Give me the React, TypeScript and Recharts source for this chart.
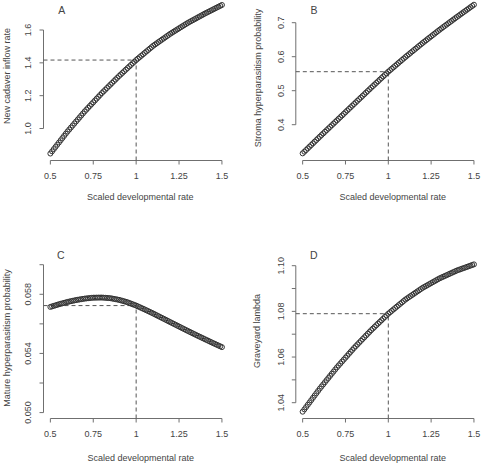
import React from 'react';
import { ScatterChart, Scatter, XAxis, YAxis, ReferenceLine } from 'recharts';

// ---------- data ----------
const RATE = [
  0.5, 0.51, 0.52, 0.53, 0.54, 0.55, 0.56, 0.57, 0.58, 0.59,
  0.6, 0.61, 0.62, 0.63, 0.64, 0.65, 0.66, 0.67, 0.68, 0.69,
  0.7, 0.71, 0.72, 0.73, 0.74, 0.75, 0.76, 0.77, 0.78, 0.79,
  0.8, 0.81, 0.82, 0.83, 0.84, 0.85, 0.86, 0.87, 0.88, 0.89,
  0.9, 0.91, 0.92, 0.93, 0.94, 0.95, 0.96, 0.97, 0.98, 0.99,
  1.0, 1.01, 1.02, 1.03, 1.04, 1.05, 1.06, 1.07, 1.08, 1.09,
  1.1, 1.11, 1.12, 1.13, 1.14, 1.15, 1.16, 1.17, 1.18, 1.19,
  1.2, 1.21, 1.22, 1.23, 1.24, 1.25, 1.26, 1.27, 1.28, 1.29,
  1.3, 1.31, 1.32, 1.33, 1.34, 1.35, 1.36, 1.37, 1.38, 1.39,
  1.4, 1.41, 1.42, 1.43, 1.44, 1.45, 1.46, 1.47, 1.48, 1.49,
  1.5,
];

const NEW_CADAVER_INFLOW = [
  0.8475, 0.8609, 0.8743, 0.8878, 0.9012, 0.9146, 0.928, 0.9414, 0.9549, 0.9683,
  0.9817, 0.9939, 1.0061, 1.0183, 1.0305, 1.0428, 1.055, 1.0672, 1.0794, 1.0916,
  1.1038, 1.115, 1.1262, 1.1373, 1.1485, 1.1597, 1.1709, 1.1821, 1.1932, 1.2044,
  1.2156, 1.226, 1.2363, 1.2467, 1.2571, 1.2675, 1.2778, 1.2882, 1.2986, 1.3089,
  1.3193, 1.3291, 1.3388, 1.3486, 1.3584, 1.3682, 1.3779, 1.3877, 1.3975, 1.4072,
  1.417, 1.4257, 1.4345, 1.4432, 1.452, 1.4607, 1.4694, 1.4782, 1.4869, 1.4957,
  1.5044, 1.5117, 1.519, 1.5264, 1.5337, 1.541, 1.5483, 1.5556, 1.563, 1.5703,
  1.5776, 1.5841, 1.5906, 1.5971, 1.6036, 1.6102, 1.6167, 1.6232, 1.6297, 1.6362,
  1.6427, 1.6484, 1.6541, 1.6598, 1.6655, 1.6712, 1.6769, 1.6826, 1.6883, 1.694,
  1.6997, 1.705, 1.7103, 1.7155, 1.7208, 1.7261, 1.7314, 1.7367, 1.7419, 1.7472,
  1.7525,
];

const STROMA_HYPERPARASITISM = [
  0.3157, 0.3206, 0.3255, 0.3304, 0.3353, 0.3402, 0.3451, 0.35, 0.3549, 0.3598,
  0.3647, 0.3695, 0.3743, 0.3791, 0.3839, 0.3887, 0.3935, 0.3983, 0.4031, 0.4079,
  0.4127, 0.4175, 0.4223, 0.4271, 0.4319, 0.4368, 0.4416, 0.4464, 0.4512, 0.456,
  0.4608, 0.4656, 0.4704, 0.4752, 0.48, 0.4848, 0.4896, 0.4944, 0.4992, 0.504,
  0.5088, 0.5135, 0.5182, 0.5229, 0.5276, 0.5324, 0.5371, 0.5418, 0.5465, 0.5512,
  0.5559, 0.5602, 0.5645, 0.5688, 0.5731, 0.5775, 0.5818, 0.5861, 0.5904, 0.5947,
  0.599, 0.6031, 0.6072, 0.6114, 0.6155, 0.6196, 0.6237, 0.6278, 0.632, 0.6361,
  0.6402, 0.6441, 0.648, 0.652, 0.6559, 0.6598, 0.6637, 0.6676, 0.6716, 0.6755,
  0.6794, 0.6831, 0.6869, 0.6906, 0.6943, 0.6981, 0.7018, 0.7055, 0.7092, 0.713,
  0.7167, 0.7203, 0.7239, 0.7276, 0.7312, 0.7348, 0.7384, 0.742, 0.7457, 0.7493,
  0.7529,
];

const MATURE_HYPERPARASITISM = [
  0.057146, 0.057182, 0.057218, 0.057253, 0.057289, 0.057325, 0.057357, 0.057388, 0.05742, 0.057451,
  0.057483, 0.057508, 0.057534, 0.057559, 0.057585, 0.05761, 0.05763, 0.057649, 0.057669, 0.057688,
  0.057708, 0.05772, 0.057733, 0.057745, 0.057758, 0.05777, 0.057772, 0.057774, 0.057776, 0.057778,
  0.05778, 0.057771, 0.057762, 0.057753, 0.057744, 0.057735, 0.057713, 0.057691, 0.057669, 0.057647,
  0.057625, 0.057592, 0.057559, 0.057526, 0.057493, 0.05746, 0.057415, 0.05737, 0.057326, 0.057281,
  0.057236, 0.057184, 0.057132, 0.057079, 0.057027, 0.056975, 0.056919, 0.056864, 0.056808, 0.056753,
  0.056697, 0.056639, 0.05658, 0.056522, 0.056463, 0.056405, 0.056346, 0.056288, 0.056229, 0.056171,
  0.056112, 0.056054, 0.055995, 0.055937, 0.055878, 0.05582, 0.055762, 0.055703, 0.055645, 0.055586,
  0.055528, 0.055471, 0.055415, 0.055358, 0.055302, 0.055245, 0.055189, 0.055133, 0.055078, 0.055022,
  0.054966, 0.054912, 0.054857, 0.054803, 0.054748, 0.054694, 0.054641, 0.054587, 0.054534, 0.05448,
  0.054427,
];

const GRAVEYARD_LAMBDA = [
  1.03606, 1.03707, 1.03808, 1.03909, 1.0401, 1.04111, 1.04212, 1.04313, 1.04414, 1.04515,
  1.04616, 1.04709, 1.04802, 1.04895, 1.04988, 1.05081, 1.05174, 1.05267, 1.0536, 1.05453,
  1.05546, 1.05631, 1.05716, 1.05801, 1.05886, 1.05971, 1.06056, 1.06141, 1.06226, 1.06311,
  1.06396, 1.06474, 1.06552, 1.0663, 1.06708, 1.06786, 1.06864, 1.06942, 1.0702, 1.07098,
  1.07176, 1.07248, 1.0732, 1.07393, 1.07465, 1.07537, 1.07609, 1.07681, 1.07754, 1.07826,
  1.07898, 1.0796, 1.08022, 1.08084, 1.08146, 1.08208, 1.0827, 1.08332, 1.08394, 1.08456,
  1.08518, 1.08569, 1.0862, 1.08671, 1.08722, 1.08773, 1.08824, 1.08875, 1.08926, 1.08977,
  1.09028, 1.0907, 1.09112, 1.09154, 1.09196, 1.09238, 1.0928, 1.09322, 1.09364, 1.09406,
  1.09448, 1.09482, 1.09516, 1.0955, 1.09584, 1.09618, 1.09652, 1.09686, 1.0972, 1.09754,
  1.09788, 1.09815, 1.09842, 1.09869, 1.09896, 1.09923, 1.0995, 1.09977, 1.10004, 1.10031,
  1.10058,
];

const X_TICKS = [0.5, 0.75, 1, 1.25, 1.5];
const X_TICK_LABELS = ['0.5', '0.75', '1', '1.25', '1.5'];

const Y_TICKS_A = [1.0, 1.2, 1.4, 1.6];
const Y_LABELS_A = ['1.0', '1.2', '1.4', '1.6'];
const Y_TICKS_B = [0.4, 0.5, 0.6, 0.7];
const Y_LABELS_B = ['0.4', '0.5', '0.6', '0.7'];
const Y_TICKS_C = [0.05, 0.052, 0.054, 0.056, 0.058, 0.06];
const Y_LABELS_C = ['0.050', '', '0.054', '', '0.058', ''];
const Y_TICKS_D = [1.04, 1.05, 1.06, 1.07, 1.08, 1.09, 1.1];
const Y_LABELS_D = ['1.04', '', '1.06', '', '1.08', '', '1.10'];

const PANEL_LETTERS = ['A', 'B', 'C', 'D'];
const Y_TITLES = [
  'New cadaver inflow rate',
  'Stroma hyperparasitism probability',
  'Mature hyperparasitism probability',
  'Graveyard lambda',
];
const X_TITLE = 'Scaled developmental rate';
const REFERENCE_RATE = 1;

// ---------- styling / layout ----------
const FONT = "'Liberation Sans', Arial, Helvetica, sans-serif";
const TEXT = '#444';
const AXIS = '#6f6f6f';
const POINT = '#333';
const DASH = '#555';
const X_DOMAIN: [number, number] = [0.46, 1.54];

const PANELS = [
  {
    values: NEW_CADAVER_INFLOW, yTicks: Y_TICKS_A, yLabels: Y_LABELS_A,
    left: 0, top: -10, width: 242, height: 242, mTop: 8.7, mRight: 13.2, yAxisW: 43.5, xAxisH: 71.5,
    yDomain: [0.8051, 1.7907] as [number, number],
    letter: [61.7, 10], yTitle: [7.2, 76], xTitle: [140.3, 197],
  },
  {
    values: STROMA_HYPERPARASITISM, yTicks: Y_TICKS_B, yLabels: Y_LABELS_B,
    left: 242, top: -10, width: 242, height: 242, mTop: 8.7, mRight: 3.2, yAxisW: 53.8, xAxisH: 71.5,
    yDomain: [0.29471, 0.77059] as [number, number],
    letter: [314, 10], yTitle: [257.5, 78], xTitle: [392.7, 197],
  },
  {
    values: MATURE_HYPERPARASITISM, yTicks: Y_TICKS_C, yLabels: Y_LABELS_C,
    left: 0, top: 232, width: 242, height: 233, mTop: 26.8, mRight: 13.2, yAxisW: 43.5, xAxisH: 46.5,
    yDomain: [0.0496, 0.0604] as [number, number],
    letter: [60.7, 254.7], yTitle: [6.8, 338], xTitle: [140.7, 457.5],
  },
  {
    values: GRAVEYARD_LAMBDA, yTicks: Y_TICKS_D, yLabels: Y_LABELS_D,
    left: 242, top: 232, width: 242, height: 233, mTop: 26.8, mRight: 3.2, yAxisW: 53.8, xAxisH: 46.5,
    yDomain: [1.03308, 1.10302] as [number, number],
    letter: [313.7, 255], yTitle: [257.2, 331], xTitle: [392.7, 457.5],
  },
];

const xTick = (props: any) => {
  const { x, y, payload, index } = props;
  let i = X_TICKS.indexOf(payload?.value);
  if (i < 0) i = index;
  return (
    <text x={x} y={y + 9} textAnchor="middle" dominantBaseline="central" fontSize={9} fill={TEXT} fontFamily={FONT}>
      {X_TICK_LABELS[i]}
    </text>
  );
};

const makeYTick = (ticks: number[], labels: string[]) => (props: any) => {
  const { x, y, payload, index } = props;
  let i = ticks.indexOf(payload?.value);
  if (i < 0) i = index;
  const label = labels[i];
  if (!label) return <g />;
  const cx = x - 9;
  return (
    <text x={cx} y={y} transform={`rotate(-90 ${cx} ${y})`} textAnchor="middle" dominantBaseline="central" fontSize={9} fill={TEXT} fontFamily={FONT}>
      {label}
    </text>
  );
};

const circleShape = (props: any) => (
  <circle cx={props.cx} cy={props.cy} r={2.5} fill="none" stroke={POINT} strokeWidth={1} />
);

function Panel({ p }: { p: (typeof PANELS)[number] }) {
  const data = RATE.map((x, i) => ({ x, y: p.values[i] }));
  const refY = p.values[RATE.indexOf(REFERENCE_RATE)];
  const lo = p.yDomain[0];
  return (
    <div style={{ position: 'absolute', left: p.left, top: p.top }}>
      <ScatterChart width={p.width} height={p.height} margin={{ top: p.mTop, right: p.mRight, bottom: 0, left: 0 }}>
        <XAxis
          type="number" dataKey="x" domain={X_DOMAIN} ticks={X_TICKS} interval={0} allowDataOverflow
          axisLine={false} stroke={AXIS} tickSize={4} tickMargin={2} height={p.xAxisH} tick={xTick}
        />
        <YAxis
          type="number" dataKey="y" domain={p.yDomain} ticks={p.yTicks} interval={0} allowDataOverflow
          axisLine={false} stroke={AXIS} tickSize={4} tickMargin={2} width={p.yAxisW} tick={makeYTick(p.yTicks, p.yLabels)}
        />
        <ReferenceLine
          segment={[{ x: X_TICKS[0], y: lo }, { x: X_TICKS[X_TICKS.length - 1], y: lo }]}
          stroke={AXIS} strokeWidth={1} ifOverflow="visible"
        />
        <ReferenceLine
          segment={[{ x: X_DOMAIN[0], y: p.yTicks[0] }, { x: X_DOMAIN[0], y: p.yTicks[p.yTicks.length - 1] }]}
          stroke={AXIS} strokeWidth={1} ifOverflow="visible"
        />
        <ReferenceLine
          segment={[{ x: X_DOMAIN[0], y: refY }, { x: REFERENCE_RATE, y: refY }]}
          stroke={DASH} strokeWidth={1} strokeDasharray="4 3" ifOverflow="visible"
        />
        <ReferenceLine
          segment={[{ x: REFERENCE_RATE, y: lo }, { x: REFERENCE_RATE, y: refY }]}
          stroke={DASH} strokeWidth={1} strokeDasharray="4 3" ifOverflow="visible"
        />
        <Scatter data={data} shape={circleShape} isAnimationActive={false} />
      </ScatterChart>
    </div>
  );
}

export default function App() {
  return (
    <div style={{ position: 'absolute', left: 0, top: 0, width: 484, height: 465, overflow: 'hidden', background: '#fff' }}>
      {PANELS.map((p, i) => (
        <Panel key={i} p={p} />
      ))}
      <svg width={484} height={465} style={{ position: 'absolute', left: 0, top: 0, pointerEvents: 'none' }}>
        {PANELS.map((p, i) => (
          <g key={i} fontFamily={FONT} fill={TEXT}>
            <text x={p.letter[0]} y={p.letter[1]} fontSize={10.5} textAnchor="middle" dominantBaseline="central">
              {PANEL_LETTERS[i]}
            </text>
            <text x={p.xTitle[0]} y={p.xTitle[1]} fontSize={9} textAnchor="middle" dominantBaseline="central">
              {X_TITLE}
            </text>
            <text
              x={p.yTitle[0]} y={p.yTitle[1]} fontSize={9} textAnchor="middle" dominantBaseline="central"
              transform={`rotate(-90 ${p.yTitle[0]} ${p.yTitle[1]})`}
            >
              {Y_TITLES[i]}
            </text>
          </g>
        ))}
      </svg>
    </div>
  );
}
